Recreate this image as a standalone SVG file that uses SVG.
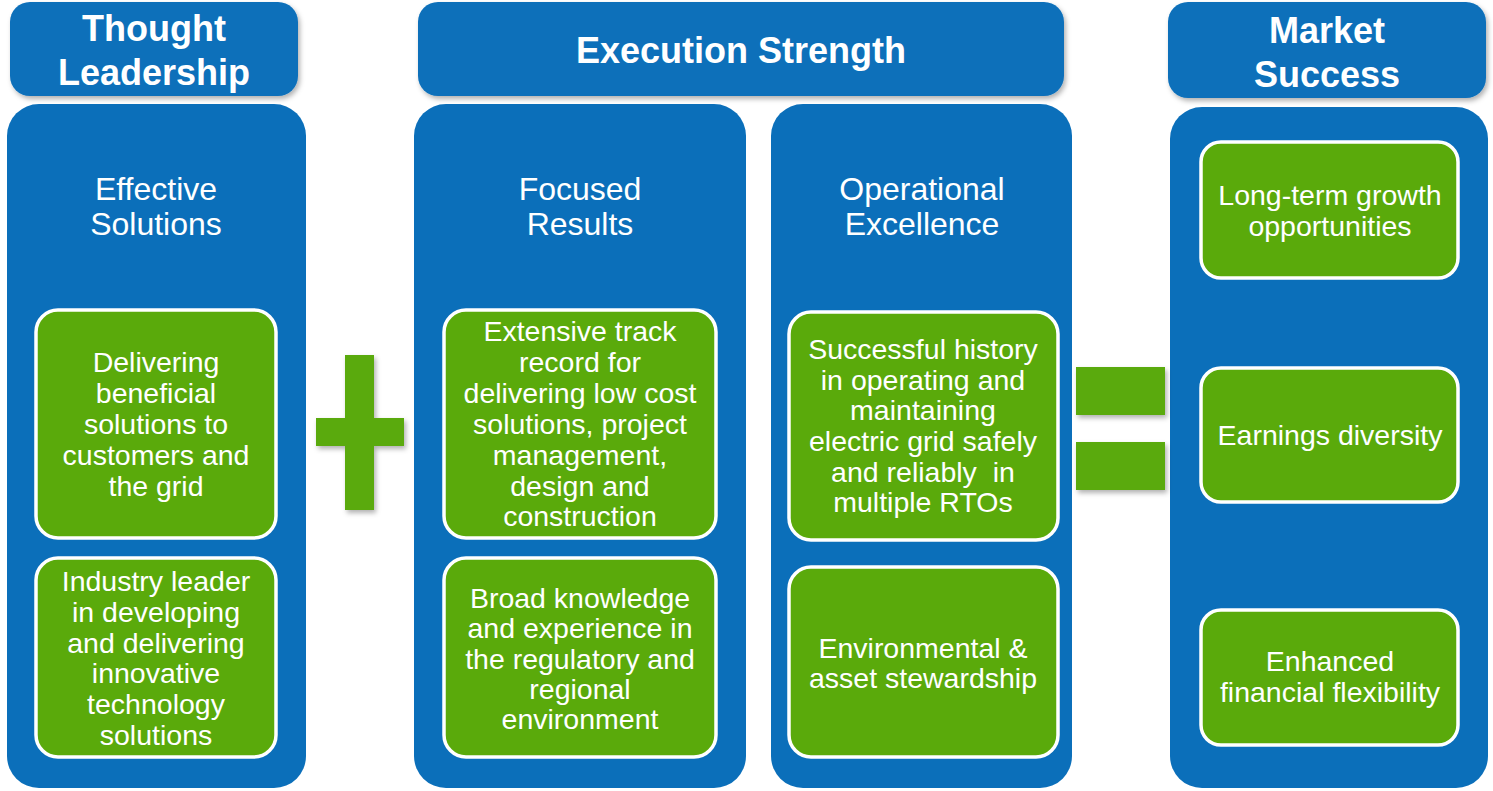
<svg xmlns="http://www.w3.org/2000/svg" width="1493" height="791" viewBox="0 0 1493 791">
<defs>
<filter id="sh" x="-10%" y="-10%" width="130%" height="130%">
<feDropShadow dx="2" dy="3" stdDeviation="2.5" flood-color="#000" flood-opacity="0.3"/>
</filter>
<style>
.hdr{fill:#0B6FBA;filter:url(#sh)}
.col{fill:#0B6FBA}
.box{fill:#5AAA0B;stroke:#fff;stroke-width:3.5}
.sym{fill:#5AAA0B;filter:url(#sh)}
text{font-family:"Liberation Sans",Arial,sans-serif;fill:#fff;text-anchor:middle}
.h{font-size:36px;font-weight:bold}
.t{font-size:32px}
.b{font-size:28.5px}
</style>
</defs>
<rect width="1493" height="791" fill="#fff"/>

<g id="header-thought-leadership">
<rect class="hdr" x="10" y="2" width="288" height="94" rx="20"/>
<text class="h" x="154" y="41">Thought</text>
<text class="h" x="154" y="85">Leadership</text>
</g>
<g id="header-execution-strength">
<rect class="hdr" x="418" y="2" width="646" height="94" rx="20"/>
<text class="h" x="741" y="63">Execution Strength</text>
</g>
<g id="header-market-success">
<rect class="hdr" x="1168" y="2" width="318" height="96" rx="20"/>
<text class="h" x="1327" y="43">Market</text>
<text class="h" x="1327" y="87">Success</text>
</g>

<g id="col-effective-solutions">
<rect class="col" x="7" y="104" width="299" height="684" rx="32"/>
<text class="t" x="156" y="200">Effective</text>
<text class="t" x="156" y="235">Solutions</text>
</g>
<g id="box-delivering">
<rect class="box" x="36" y="310" width="240" height="228" rx="22"/>
<text class="b"><tspan x="156" y="372">Delivering</tspan><tspan x="156" y="403">beneficial</tspan><tspan x="156" y="434">solutions to</tspan><tspan x="156" y="465">customers and</tspan><tspan x="156" y="496">the grid</tspan></text>
</g>
<g id="box-industry-leader">
<rect class="box" x="36" y="558" width="240" height="199" rx="22"/>
<text class="b"><tspan x="156" y="591">Industry leader</tspan><tspan x="156" y="622">in developing</tspan><tspan x="156" y="653">and delivering</tspan><tspan x="156" y="683">innovative</tspan><tspan x="156" y="714">technology</tspan><tspan x="156" y="745">solutions</tspan></text>
</g>

<g id="col-focused-results">
<rect class="col" x="414" y="104" width="332" height="684" rx="32"/>
<text class="t" x="580" y="200">Focused</text>
<text class="t" x="580" y="235">Results</text>
</g>
<g id="box-extensive-track">
<rect class="box" x="444" y="310" width="272" height="228" rx="22"/>
<text class="b"><tspan x="580" y="341">Extensive track</tspan><tspan x="580" y="372">record for</tspan><tspan x="580" y="403">delivering low cost</tspan><tspan x="580" y="434">solutions, project</tspan><tspan x="580" y="465">management,</tspan><tspan x="580" y="496">design and</tspan><tspan x="580" y="526">construction</tspan></text>
</g>
<g id="box-broad-knowledge">
<rect class="box" x="444" y="558" width="272" height="199" rx="22"/>
<text class="b"><tspan x="580" y="608">Broad knowledge</tspan><tspan x="580" y="638">and experience in</tspan><tspan x="580" y="669">the regulatory and</tspan><tspan x="580" y="699">regional</tspan><tspan x="580" y="729">environment</tspan></text>
</g>

<g id="col-operational-excellence">
<rect class="col" x="771" y="104" width="301" height="684" rx="32"/>
<text class="t" x="922" y="200">Operational</text>
<text class="t" x="922" y="235">Excellence</text>
</g>
<g id="box-successful-history">
<rect class="box" x="789" y="312" width="269" height="228" rx="22"/>
<text class="b"><tspan x="923" y="359">Successful history</tspan><tspan x="923" y="390">in operating and</tspan><tspan x="923" y="420">maintaining</tspan><tspan x="923" y="451">electric grid safely</tspan><tspan x="923" y="482" xml:space="preserve">and reliably  in</tspan><tspan x="923" y="512">multiple RTOs</tspan></text>
</g>
<g id="box-environmental">
<rect class="box" x="789" y="567" width="269" height="190" rx="22"/>
<text class="b"><tspan x="923" y="658">Environmental &amp;</tspan><tspan x="923" y="688">asset stewardship</tspan></text>
</g>

<g id="col-market-success">
<rect class="col" x="1170" y="107" width="318" height="681" rx="32"/>
</g>
<g id="box-long-term">
<rect class="box" x="1201" y="142" width="257" height="136" rx="20"/>
<text class="b"><tspan x="1330" y="205">Long-term growth</tspan><tspan x="1330" y="236">opportunities</tspan></text>
</g>
<g id="box-earnings">
<rect class="box" x="1201" y="368" width="257" height="134" rx="20"/>
<text class="b" x="1330" y="445">Earnings diversity</text>
</g>
<g id="box-enhanced">
<rect class="box" x="1201" y="610" width="257" height="135" rx="20"/>
<text class="b"><tspan x="1330" y="671">Enhanced</tspan><tspan x="1330" y="702">financial flexibility</tspan></text>
</g>

<g id="connectors">
<g id="plus">
<path class="sym" d="M345 355H374V418H404V446H374V510H345V446H316V418H345Z"/>
</g>
<g id="equals">
<rect class="sym" x="1076" y="367" width="89" height="48"/>
<rect class="sym" x="1076" y="442" width="89" height="48"/>
</g>
</g>
</svg>
